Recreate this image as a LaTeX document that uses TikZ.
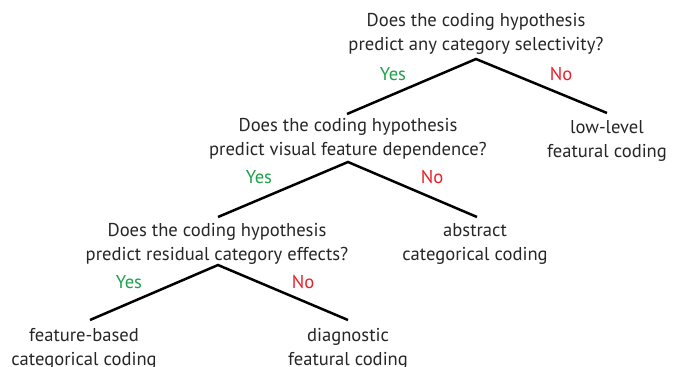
\documentclass[tikz,border=0pt]{standalone}
\usepackage{fontspec}
\setmainfont{PT Sans}
\definecolor{yesgreen}{RGB}{30,160,75}
\definecolor{nored}{RGB}{232,32,42}
\begin{document}
\begin{tikzpicture}[x=1pt,y=-1pt,
  txt/.style={font=\fontsize{18.6}{23.5}\selectfont, align=center, inner sep=0pt, text=black!85},
  yes/.style={font=\fontsize{18.6}{23}\selectfont, text=yesgreen, inner sep=0pt},
  no/.style={font=\fontsize{18.6}{23}\selectfont, text=nored, inner sep=0pt},
  branch/.style={line width=2.5pt, black}]
\useasboundingbox (0,0) rectangle (681,367);
% questions
\node[txt, anchor=base] (q1) at (476,50) {Does the coding hypothesis\\predict any category selectivity?};
\node[txt, anchor=base] (q2) at (348,155) {Does the coding hypothesis\\predict visual feature dependence?};
\node[txt, anchor=base] (q3) at (217,260) {Does the coding hypothesis\\predict residual category effects?};
% leaves
\node[txt, anchor=base] (l1) at (607,157) {low-level\\featural coding};
\node[txt, anchor=base] (l2) at (475,260) {abstract\\categorical coding};
\node[txt, anchor=base] (l3) at (84,365) {feature-based\\categorical coding};
\node[txt, anchor=base] (l4) at (348,365) {diagnostic\\featural coding};
% branch points
\coordinate (a1) at (476,59);
\coordinate (e1l) at (347,114);
\coordinate (e1r) at (607,113);
\coordinate (a2) at (348,162);
\coordinate (e2l) at (218,217);
\coordinate (e2r) at (477,217);
\coordinate (a3) at (218,265);
\coordinate (e3l) at (90,320);
\coordinate (e3r) at (348,320);
\draw[branch] (e1l) -- (a1) -- (e1r);
\draw[branch] (e2l) -- (a2) -- (e2r);
\draw[branch] (e3l) -- (a3) -- (e3r);
% labels
\node[yes] (y1) at (393,74) {Yes};
\node[no] (n1) at (561,74) {No};
\node[yes] (y2) at (259,177) {Yes};
\node[no] (n2) at (432,177) {No};
\node[yes] (y3) at (129,282) {Yes};
\node[no] (n3) at (303,282) {No};
\end{tikzpicture}
\end{document}
